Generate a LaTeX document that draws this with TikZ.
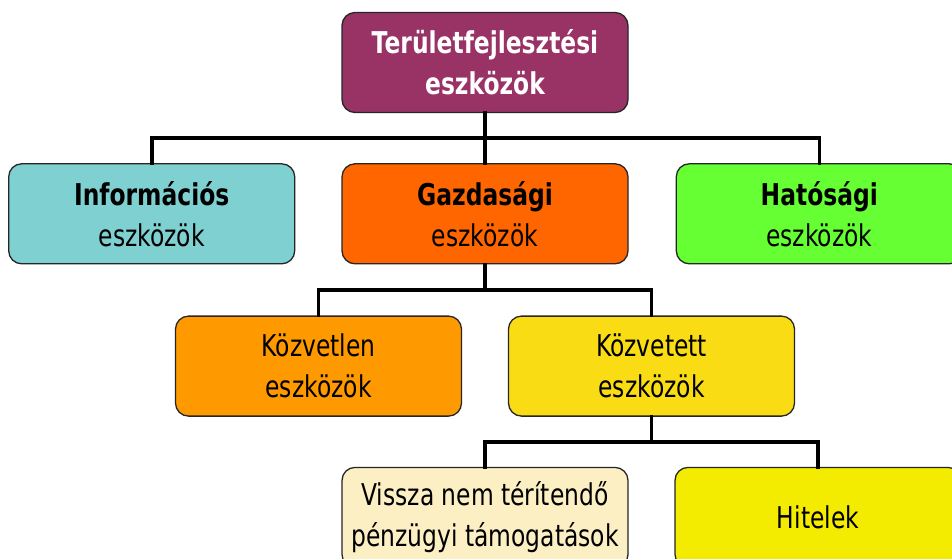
\documentclass[tikz,border=0pt]{standalone}
\usepackage{fontspec}
\setmainfont{DejaVu Sans}[FakeStretch=0.78]
\usepackage{xcolor}
\usepackage{tikz}
\usetikzlibrary{positioning,calc}
\definecolor{TopMagenta}{HTML}{993366}
\definecolor{InfoTeal}{HTML}{7FD0D0}
\definecolor{GazdOrange}{HTML}{FF6600}
\definecolor{HatGreen}{HTML}{66FF33}
\definecolor{KozvOrange}{HTML}{FF9900}
\definecolor{KozvGold}{HTML}{F9DC14}
\definecolor{VisszaCream}{HTML}{FCEFC4}
\definecolor{HitelYellow}{HTML}{F4EC00}
\tikzset{
  box/.style={draw=black!85,line width=1.3pt,rounded corners=13pt,align=center,
    minimum width=286pt,minimum height=100pt,inner sep=2pt,
    font=\fontsize{30}{41}\selectfont},
  conn/.style={line width=3.6pt,line cap=rect},
}
\begin{document}
\begin{tikzpicture}[x=1pt,y=-1pt,node distance=50pt and 47pt]
\clip (0,0) rectangle (952,558);
\fill[white] (0,0) rectangle (952,558);
% top level
\node[box, fill=TopMagenta, text=white, font=\fontsize{30}{41}\selectfont\bfseries] (top) at (485,62.5) {Területfejlesztési\\eszközök};
% second row
\node[box, fill=GazdOrange, below=50pt of top] (gazd) {\textbf{Gazdasági}\\eszközök};
\node[box, fill=InfoTeal, left=46pt of gazd] (info) {\textbf{Információs}\\eszközök};
\node[box, fill=HatGreen, right=47pt of gazd] (hat) {\textbf{Hatósági}\\eszközök};
% third row
\node[box, fill=KozvOrange, below=51pt of gazd, xshift=-166.5pt] (kozvetlen) {Közvetlen\\eszközök};
\node[box, fill=KozvGold, below=51pt of gazd, xshift=166.5pt] (kozvetett) {Közvetett\\eszközök};
% fourth row
\node[box, fill=VisszaCream, below=50pt of kozvetett, xshift=-166.5pt] (vissza) {Vissza nem térítendő\\pénzügyi támogatások};
\node[box, fill=HitelYellow, below=50pt of kozvetett, xshift=166.5pt] (hitel) {Hitelek};
% connectors
\coordinate (bus1) at ($(top.south)!.5!(gazd.north)$);
\coordinate (bus2) at ($(gazd.south)!.5!(gazd.south |- kozvetlen.north)$);
\coordinate (bus3) at ($(kozvetett.south)!.5!(kozvetett.south |- vissza.north)$);
\draw[conn] (top.south) -- (gazd.north);
\draw[conn] (info.north) |- (bus1) -| (hat.north);
\draw[conn] (gazd.south) -- (bus2);
\draw[conn] (kozvetlen.north) |- (bus2) -| (kozvetett.north);
\draw[conn] (kozvetett.south) -- (bus3);
\draw[conn] (vissza.north) |- (bus3) -| (hitel.north);
\end{tikzpicture}
\end{document}
